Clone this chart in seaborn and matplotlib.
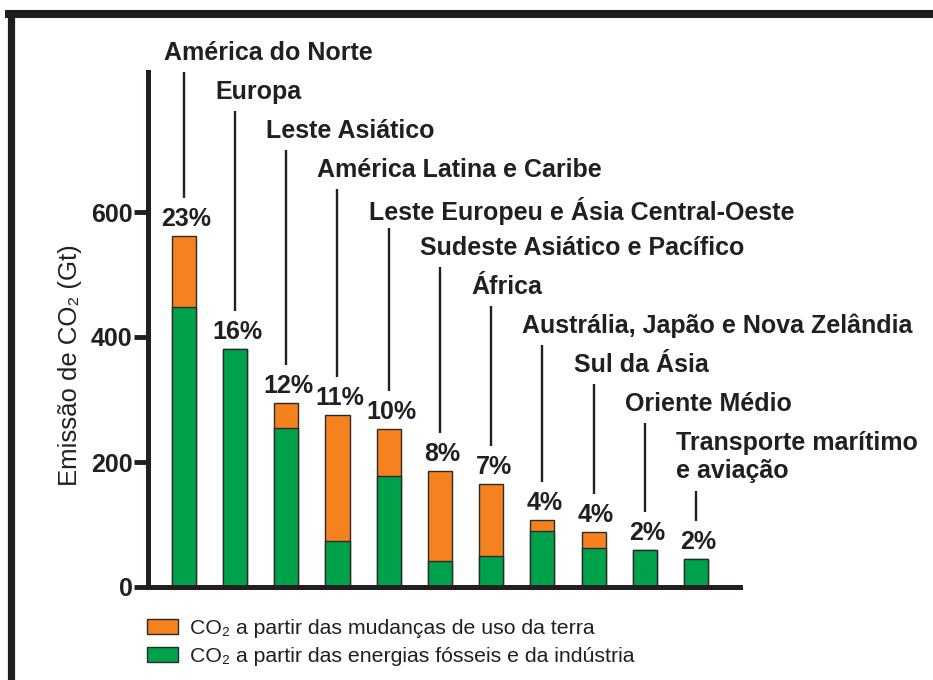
import matplotlib
matplotlib.use("Agg")
import matplotlib.pyplot as plt
import matplotlib.patches as mpatches
from matplotlib.lines import Line2D
import seaborn as sns
import pandas as pd

# dados (Gt de CO2 acumulado por região)
regions = [
    "América do Norte",
    "Europa",
    "Leste Asiático",
    "América Latina e Caribe",
    "Leste Europeu e Ásia Central-Oeste",
    "Sudeste Asiático e Pacífico",
    "África",
    "Austrália, Japão e Nova Zelândia",
    "Sul da Ásia",
    "Oriente Médio",
    "Transporte marítimo\ne aviação",
]
total = [562, 381, 294, 275, 253, 185, 165, 108, 88, 60, 45]  # topo (terra + fóssil)
fossil = [448, 381, 254, 74, 178, 42, 49, 89, 63, 60, 45]     # parte verde
share = ["23%", "16%", "12%", "11%", "10%", "8%", "7%", "4%", "4%", "2%", "2%"]
yticks = [0, 200, 400, 600]
legend_labels = [
    "CO₂ a partir das mudanças de uso da terra",
    "CO₂ a partir das energias fósseis e da indústria",
]

df = pd.DataFrame({"region": regions, "total": total, "fossil": fossil})

ORANGE = "#F5821F"
GREEN = "#00A14B"
EDGE = "#2a2a2a"
INK = "#231f20"

sns.set_style("white")
plt.rcParams["font.family"] = ["Liberation Sans", "DejaVu Sans"]

W, H = 933, 680
fig = plt.figure(figsize=(W / 100, H / 100), dpi=100)

# eixo em pixels: esquerda 148, base 587, topo 72, direita 740
x0, x1, y_base, y_top = 148, 740, 587, 72
ax = fig.add_axes([x0 / W, 1 - y_base / H, (x1 - x0) / W, (y_base - y_top) / H])
YMAX = 824
ppu = (y_base - y_top) / YMAX  # pixels por Gt


def fy(p):
    # pixel (a partir do topo da figura) -> valor no eixo y
    return (y_base - p) / ppu


sns.barplot(data=df, x="region", y="total", color=ORANGE, saturation=1,
            width=0.47, edgecolor=EDGE, linewidth=1, ax=ax)
sns.barplot(data=df, x="region", y="fossil", color=GREEN, saturation=1,
            width=0.47, edgecolor=EDGE, linewidth=1, ax=ax)

ax.set_ylim(0, YMAX)
ax.set_xlim(-0.70, 10.86)
ax.set_xticks([])
ax.set_xlabel("")
ax.set_yticks(yticks)
ax.set_yticklabels([str(t) for t in yticks], fontsize=18, fontweight="bold", color=INK)
ax.tick_params(axis="y", length=10, width=3.5, color=INK, pad=1, direction="out", left=True)
ax.set_ylabel("Emissão de CO₂ (Gt)", fontsize=18.5, color=INK)
ax.yaxis.set_label_coords(-0.112, 0.43)
sns.despine(ax=ax)
for s in ["left", "bottom"]:
    ax.spines[s].set_linewidth(3.6)
    ax.spines[s].set_color(INK)

# rótulos das regiões, linhas de chamada e percentuais
dx = -20 / 51.2
for i, (name, top, pct) in enumerate(zip(regions, total, share)):
    n_lines = name.count("\n") + 1
    label_top = 53 + 39 * i - 12
    ax.text(i + dx, fy(label_top), name, ha="left", va="top", fontsize=18,
            fontweight="bold", color=INK, linespacing=1.2, clip_on=False)
    line_top = label_top + 23 + 29 * (n_lines - 1) + 8
    ax.plot([i, i], [fy(line_top), top + 38 / ppu], color=INK, lw=1.7,
            solid_capstyle="butt", clip_on=False)
    ax.text(i + 0.05, top + 5 / ppu, pct, ha="center", va="bottom", fontsize=18,
            fontweight="bold", color=INK, clip_on=False)

# legenda
handles = [
    mpatches.Patch(facecolor=ORANGE, edgecolor=EDGE, linewidth=1),
    mpatches.Patch(facecolor=GREEN, edgecolor=EDGE, linewidth=1),
]
fig.legend(handles, legend_labels, loc="upper left",
           bbox_to_anchor=(132 / W, 1 - 604 / H), frameon=False, fontsize=15.3,
           handlelength=1.45, handleheight=0.75, handletextpad=0.6,
           labelspacing=0.4, borderpad=0.2, labelcolor=INK)

# moldura (topo e esquerda)
fig.add_artist(Line2D([5 / W, 1], [1 - 14 / H, 1 - 14 / H], color="#1e1e1e",
                      lw=5.8, solid_capstyle="butt", transform=fig.transFigure))
fig.add_artist(Line2D([11 / W, 11 / W], [0, 1 - 10 / H], color="#1e1e1e",
                      lw=5.2, solid_capstyle="butt", transform=fig.transFigure))

fig.savefig("out.png", dpi=100, facecolor="white")
